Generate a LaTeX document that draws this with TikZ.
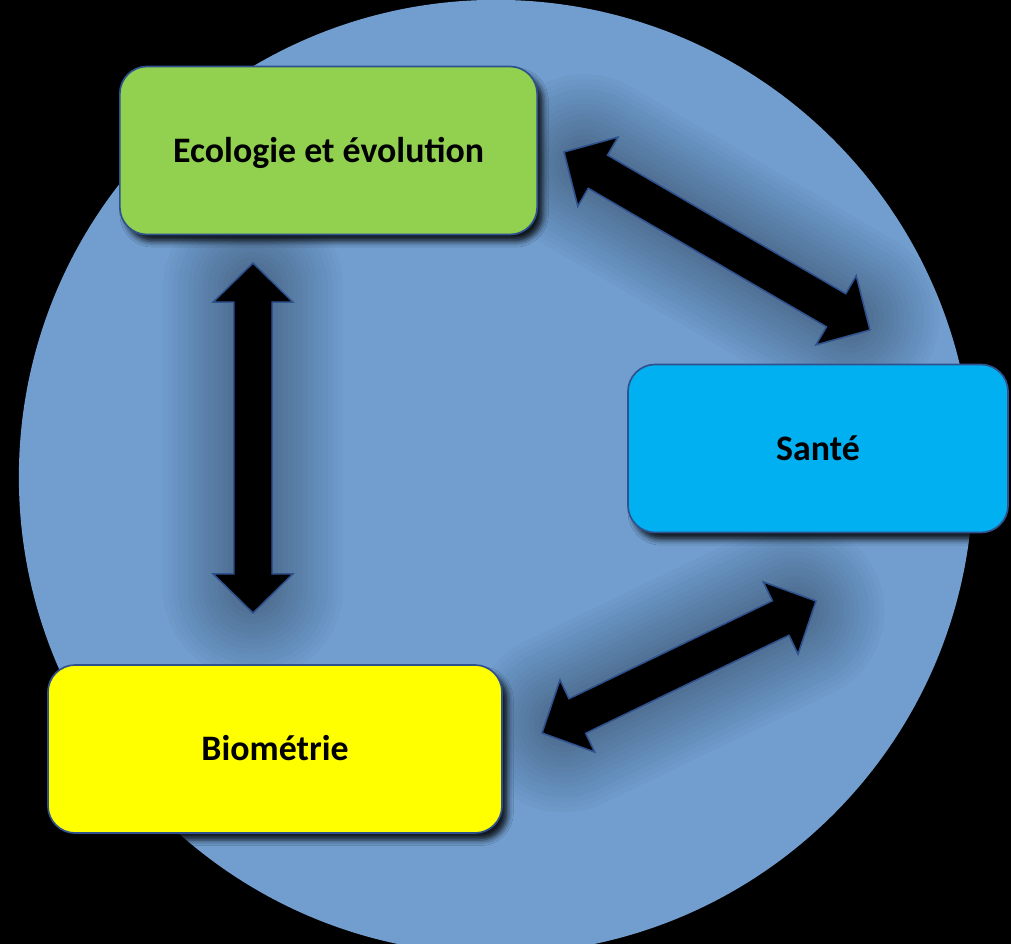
\documentclass[tikz,border=0pt]{standalone}
\usepackage{fontspec}
\setmainfont{Carlito}
\usetikzlibrary{calc}
\usetikzlibrary{shadows.blur}

\definecolor{circleblue}{HTML}{719ECF}
\definecolor{boxline}{HTML}{2F528F}
\definecolor{ecogreen}{HTML}{92D050}
\definecolor{santecyan}{HTML}{00B0F0}
\definecolor{bioyellow}{HTML}{FFFF00}

% block arrow with two heads, from tip #1 to tip #2
\newcommand{\ahlen}{0.98cm}
\newcommand{\ahwid}{1.0cm}
\newcommand{\ashaft}{0.48cm}
\newcommand{\dblarrow}[2]{%
  \foreach \w in {1,...,18}
    \draw [black, opacity=0.018, line width=\w*0.25cm, line cap=round,
      shorten <=0.6cm, shorten >=0.6cm] (#1) -- (#2);
  \draw [bigarrow] (#1)
    -- ($(#1)!\ahlen!(#2)!\ahwid!90:(#2)$)
    -- ($(#1)!\ahlen!(#2)!\ashaft!90:(#2)$)
    -- ($(#2)!\ahlen!(#1)!\ashaft!-90:(#1)$)
    -- ($(#2)!\ahlen!(#1)!\ahwid!-90:(#1)$)
    -- (#2)
    -- ($(#2)!\ahlen!(#1)!\ahwid!90:(#1)$)
    -- ($(#2)!\ahlen!(#1)!\ashaft!90:(#1)$)
    -- ($(#1)!\ahlen!(#2)!\ashaft!-90:(#2)$)
    -- ($(#1)!\ahlen!(#2)!\ahwid!-90:(#2)$)
    -- cycle;
}

\begin{document}
\begin{tikzpicture}[
  x=0.025cm,
  y=-0.025cm,
  line join=round,
  box/.style={
    draw=boxline,
    line width=1.2pt,
    rounded corners=0.68cm,
    minimum height=4.2cm,
    text height=17pt,
    text depth=0pt,
    font=\bfseries\fontsize{25.5}{30}\selectfont,
    blur shadow={shadow xshift=4pt, shadow yshift=-5pt,
      shadow blur radius=4pt, shadow opacity=85}
  },
  bigarrow/.style={fill=black, draw=boxline, line width=1.1pt, line join=miter}
]

% background and big circle
\fill [black] (0,0) rectangle (1011,944);
\useasboundingbox (0,0) rectangle (1011,944);
\clip (0,0) rectangle (1011,944);
\fill [circleblue] (496,477) circle[radius=11.925cm];

% arrow tips
\coordinate (ev top) at (253,263);
\coordinate (ev bottom) at (253,613);
\coordinate (es left) at (564,152);
\coordinate (es right) at (870,330);
\coordinate (bs left) at (542,733);
\coordinate (bs right) at (816,601);

\dblarrow{ev top}{ev bottom}
\dblarrow{es left}{es right}
\dblarrow{bs left}{bs right}

% the three boxes
\node [box, fill=ecogreen, minimum width=10.43cm] (ecologie) at (328.5,150.5) {Ecologie et évolution};
\node [box, fill=santecyan, minimum width=9.5cm] (sante) at (818,448.5) {Santé};
\node [box, fill=bioyellow, minimum width=11.35cm] (biometrie) at (275,749) {Biométrie};

\end{tikzpicture}
\end{document}
